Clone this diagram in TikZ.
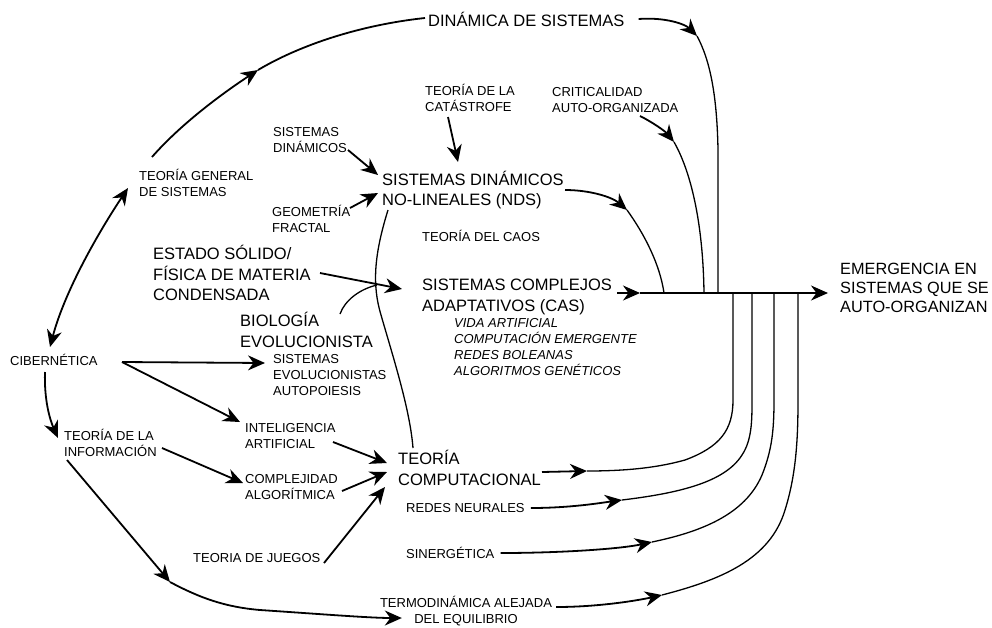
\documentclass[tikz,border=0pt]{standalone}
\usepackage{fontspec}
\setmainfont{Liberation Sans}
\usetikzlibrary{arrows.meta}
\begin{document}
\begin{tikzpicture}[x=1pt,y=-1pt,
  lab/.style={inner sep=0pt, anchor=west, align=left, font=\fontsize{13}{16}\selectfont},
  big/.style={inner sep=0pt, anchor=west, align=left, font=\fontsize{16.5}{20.5}\selectfont},
  lst/.style={inner sep=0pt, anchor=west, align=left, font=\fontsize{13}{16}\selectfont\itshape},
  arr/.style={line width=1.8pt, -{Stealth[length=17pt,width=15pt,inset=5.5pt]}},
  dbl/.style={line width=1.8pt, {Stealth[length=17pt,width=15pt,inset=5.5pt]}-{Stealth[length=17pt,width=15pt,inset=5.5pt]}},
  wire/.style={line width=1.8pt},
  thin/.style={line width=1.3pt},
]
\useasboundingbox (0,0) rectangle (992,627);

% ---------- labels ----------
\node[big] (DS)   at (428,19)  {DINÁMICA DE SISTEMAS};
\node[lab] (CAT)  at (425,98)  {TEORÍA DE LA\\CATÁSTROFE};
\node[lab] (CRIT) at (552,100) {CRITICALIDAD\\AUTO-ORGANIZADA};
\node[lab] (SD)   at (273,140) {SISTEMAS\\DINÁMICOS};
\node[lab] (TGS)  at (139,183) {TEORÍA GENERAL\\DE SISTEMAS};
\node[big] (NDS)  at (382,190) {SISTEMAS DINÁMICOS\\NO-LINEALES (NDS)};
\node[lab] (GF)   at (272,219) {GEOMETRÍA\\FRACTAL};
\node[lab] (CAOS) at (422,236) {TEORÍA DEL CAOS};
\node[big] (ES)   at (153,273) {ESTADO SÓLIDO/\\FÍSICA DE MATERIA\\CONDENSADA};
\node[big] (CAS)  at (422,297) {SISTEMAS COMPLEJOS\\ADAPTATIVOS (CAS)};
\node[big] (BE)   at (240,330) {BIOLOGÍA\\EVOLUCIONISTA};
\node[lst] (CASL) at (454,347) {VIDA ARTIFICIAL\\COMPUTACIÓN EMERGENTE\\REDES BOLEANAS\\ALGORITMOS GENÉTICOS};
\node[big, font=\fontsize{16.3}{19.3}\selectfont] (EMG) at (840,288) {EMERGENCIA EN\\SISTEMAS QUE SE\\AUTO-ORGANIZAN};
\node[lab] (CIB)  at (10,360)  {CIBERNÉTICA};
\node[lab] (SE)   at (273,375) {SISTEMAS\\EVOLUCIONISTAS\\AUTOPOIESIS};
\node[lab] (IA)   at (245,436) {INTELIGENCIA\\ARTIFICIAL};
\node[lab] (TI)   at (64,443)  {TEORÍA DE LA\\INFORMACIÓN};
\node[big] (TC)   at (398,468) {TEORÍA\\COMPUTACIONAL};
\node[lab] (CA)   at (245,487) {COMPLEJIDAD\\ALGORÍTMICA};
\node[lab] (RN)   at (406,508) {REDES NEURALES};
\node[lab] (SIN)  at (406,553) {SINERGÉTICA};
\node[lab] (TJ)   at (193,558) {TEORIA DE JUEGOS};
\node[lab, anchor=center, align=center] (TERMO) at (466,611) {TERMODINÁMICA ALEJADA\\DEL EQUILIBRIO};

% ---------- points where a connector carries its head mid-way ----------
\coordinate (kDS)  at (258,70);
\coordinate (kTI)  at (170,582);
\coordinate (kCAS) at (640,293);
\coordinate (kDSr) at (697,36);
\coordinate (kCR)  at (674,142);
\coordinate (kNDS) at (627,210);
\coordinate (kTC)  at (587,471);
\coordinate (kRN)  at (622,500);
\coordinate (kSIN) at (652,542);
\coordinate (kTE)  at (662,595);

% joints on the main line
\coordinate (jNDS) at (664,293);
\coordinate (jCR)  at (704,293);
\coordinate (jDS)  at (718,293);
\coordinate (jTC)  at (733,293);
\coordinate (jRN)  at (752,293);
\coordinate (jSIN) at (774,293);
\coordinate (jTE)  at (798,293);

% ---------- left-hand arcs ----------
\draw[arr]  ([shift={(13,-26)}]TGS.west) .. controls (180,125) and (220,95) .. (kDS);
\draw[wire] (kDS) .. controls (300,45) and (360,25) .. ([shift={(-3,-1)}]DS.west);

\draw[dbl] ([shift={(40,-13)}]CIB.west) .. controls (65,290) and (100,230) .. ([shift={(-11,5)}]TGS.west);
\draw[arr] ([shift={(35,12)}]CIB.west) .. controls (44,400) and (50,420) .. ([shift={(-6,-5)}]TI.west);

\draw[arr] ([shift={(112,2)}]CIB.west) -- ([shift={(-8,-12)}]SE.west);
\draw[arr] ([shift={(112,2)}]CIB.west) -- ([shift={(-5,-14)}]IA.west);

\draw[arr] ([shift={(98,5)}]TI.west) -- ([shift={(-2,-4)}]CA.west);
\draw[arr] ([shift={(3,17)}]TI.west) -- (kTI);
\draw[arr] (kTI) .. controls (200,598) and (225,607) .. (260,610)
           .. controls (320,614) and (370,618) .. ([shift={(22,7)}]TERMO.west);

% ---------- into the non-linear dynamic systems ----------
\draw[arr] ([shift={(75,10)}]SD.west) -- ([shift={(-4,-15)}]NDS.west);
\draw[arr] ([shift={(78,-11)}]GF.west) -- ([shift={(-4,3)}]NDS.west);
\draw[arr] ([shift={(23,19)}]CAT.west) -- ([shift={(76,-28)}]NDS.west);

% ---------- into the complex adaptive systems ----------
\draw[arr] ([shift={(167,0)}]ES.west) -- ([shift={(-20,-8)}]CAS.west);
\draw[thin] ([shift={(100,-16)}]BE.west) .. controls (345,300) and (360,289) .. (377,285);

\draw[thin] ([shift={(6,20)}]NDS.west) .. controls (374,255) and (372,285) .. (381,315)
            .. controls (394,360) and (410,410) .. ([shift={(15,-20)}]TC.west);

% ---------- into computational theory ----------
\draw[arr] ([shift={(88,6)}]IA.west) -- ([shift={(-11,-5)}]TC.west);
\draw[arr] ([shift={(97,4)}]CA.west) -- ([shift={(-11,4)}]TC.west);
\draw[arr] ([shift={(131,5)}]TJ.west) -- ([shift={(-13,19)}]TC.west);

% ---------- from above onto the main line ----------
\draw[arr]  ([xshift=14pt]DS.east) .. controls (665,17) and (685,24) .. (kDSr);
\draw[thin] (kDSr) .. controls (710,60) and (717,95) .. (718,150) -- (jDS);

\draw[arr]  ([shift={(88,16)}]CRIT.west) .. controls (652,122) and (665,131) .. (kCR);
\draw[thin] (kCR) .. controls (690,170) and (703,220) .. (jCR);

\draw[arr]  ([shift={(183,0)}]NDS.west) .. controls (590,190) and (612,197) .. (kNDS);
\draw[thin] (kNDS) .. controls (645,235) and (660,265) .. (jNDS);

% ---------- main line ----------
\draw[arr] ([shift={(195,-4)}]CAS.west) -- (kCAS);
\draw[arr] (kCAS) -- ([shift={(-12,5)}]EMG.west);

% ---------- from below onto the main line ----------
\draw[arr]  ([shift={(144,4)}]TC.west) -- (kTC);
\draw[thin] (kTC) .. controls (630,471) and (660,467) .. (685,460)
            .. controls (720,447) and (733,430) .. (733,400) -- (jTC);

\draw[arr]  ([xshift=6pt]RN.east) .. controls (570,508) and (600,503) .. (kRN);
\draw[thin] (kRN) .. controls (680,493) and (725,482) .. (742,455)
            .. controls (752,440) and (752,420) .. (752,400) -- (jRN);

\draw[arr]  ([xshift=6pt]SIN.east) .. controls (560,553) and (620,549) .. (kSIN);
\draw[thin] (kSIN) .. controls (700,532) and (745,515) .. (762,475)
            .. controls (772,450) and (774,430) .. (774,400) -- (jSIN);

\draw[arr]  ([shift={(4,-4)}]TERMO.east) .. controls (600,607) and (640,600) .. (kTE);
\draw[thin] (kTE) .. controls (720,580) and (770,560) .. (785,510)
            .. controls (796,475) and (798,440) .. (798,400) -- (jTE);
\end{tikzpicture}
\end{document}
